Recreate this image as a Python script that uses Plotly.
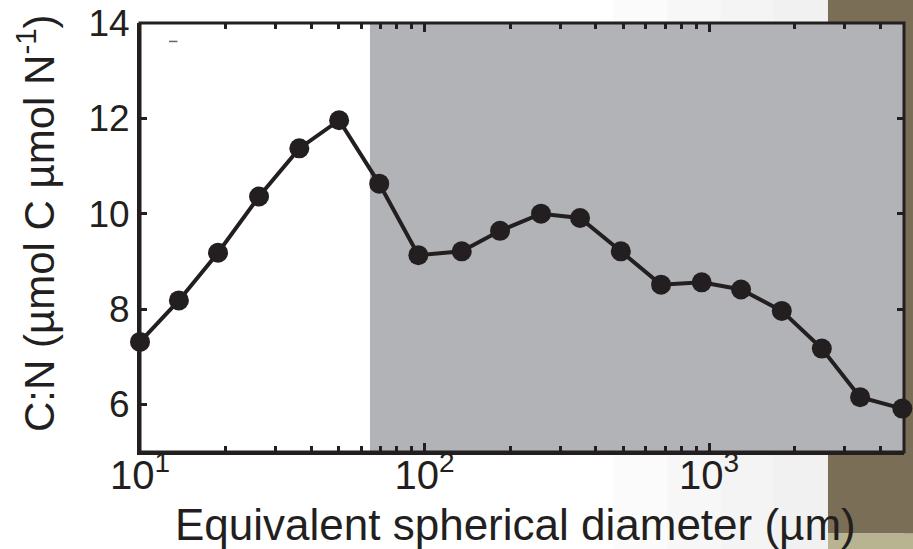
import plotly.graph_objects as go

# Data
diameter_um = [10.0, 13.7, 18.8, 26.2, 36.3, 50.1, 69.3, 95.1, 135.1, 184.2,
               256.6, 352, 489.6, 678, 942, 1295, 1801, 2490, 3394, 4775]
cn_ratio = [7.31, 8.18, 9.18, 10.36, 11.37, 11.96, 10.63, 9.13, 9.21, 9.64,
            10.0, 9.91, 9.21, 8.51, 8.56, 8.41, 7.96, 7.17, 6.15, 5.91]
shade_start_um = 64.3
x_range_log = [1, 3.685]
y_range = [5, 14]
y_ticks = [6, 8, 10, 12, 14]
x_major = [10, 100, 1000]
x_major_text = ["10<sup>1</sup>", "10<sup>2</sup>", "10<sup>3</sup>"]
x_minor = [20, 30, 40, 50, 60, 70, 80, 90, 200, 300, 400, 500, 600, 700, 800, 900,
           2000, 3000, 4000]

INK = "#231f20"
FONT = "Arial, Liberation Sans, sans-serif"

fig = go.Figure()
fig.add_trace(go.Scatter(
    x=diameter_um, y=cn_ratio, mode="lines+markers",
    line=dict(color=INK, width=4),
    marker=dict(color=INK, size=20),
    showlegend=False, cliponaxis=False))
# empty trace that carries the mirrored top/right tick axes
fig.add_trace(go.Scatter(x=[], y=[], xaxis="x2", yaxis="y2", showlegend=False,
                         hoverinfo="skip"))

BROWN = "#7a6f56"
KHAKI = "#b8b391"
PX0 = 0.9005
shapes = []
grads = ["#fbfbfb", "#f7f7f7", "#f4f4f4", "#f1f1f1"]
for i, c in enumerate(grads):
    x0 = 0.62 + i * 0.07
    shapes.append(dict(type="rect", xref="paper", yref="paper", x0=x0, x1=PX0,
                       y0=1.0, y1=1.06, fillcolor=c, line_width=0, layer="below"))
    shapes.append(dict(type="rect", xref="paper", yref="paper", x0=x0, x1=PX0,
                       y0=-0.24, y1=0.0, fillcolor=c, line_width=0, layer="below"))
shapes.append(dict(type="rect", xref="paper", yref="paper", x0=PX0, x1=1.02,
                   y0=1.0, y1=1.06, fillcolor=BROWN, line_width=0, layer="below"))
shapes.append(dict(type="rect", xref="paper", yref="paper", x0=1.0, x1=1.02,
                   y0=-0.19, y1=1.06, fillcolor=BROWN, line_width=0, layer="below"))
shapes.append(dict(type="rect", xref="paper", yref="paper", x0=PX0, x1=1.02,
                   y0=-0.19, y1=0.0, fillcolor=BROWN, line_width=0, layer="below"))
shapes.append(dict(type="rect", xref="paper", yref="paper", x0=PX0, x1=1.02,
                   y0=-0.24, y1=-0.19, fillcolor=KHAKI, line_width=0, layer="below"))
# gray shaded size range
shapes.append(dict(type="rect", xref="x", yref="y", x0=shade_start_um, x1=10 ** x_range_log[1],
                   y0=y_range[0], y1=y_range[1], fillcolor="#b2b3b7", line_width=0, layer="below"))
# tiny leftover dash
shapes.append(dict(type="line", xref="paper", yref="paper", x0=0.038, x1=0.049,
                   y0=0.957, y1=0.957, line=dict(color="#666666", width=1.5)))
# frame
shapes.append(dict(type="rect", xref="paper", yref="paper", x0=0, x1=1, y0=0, y1=1,
                   line=dict(color=INK, width=3), fillcolor="rgba(0,0,0,0)", layer="above"))

annotations = [
    dict(text="Equivalent spherical diameter (µm)", xref="paper", yref="paper",
         x=0.491, y=-0.168, xanchor="center", yanchor="middle", showarrow=False,
         font=dict(size=44, family=FONT, color=INK)),
    dict(text="C:N (µmol C µmol N<sup>-1</sup>)", xref="paper", yref="paper",
         x=-0.136, y=0.534, xanchor="center", yanchor="middle", showarrow=False,
         textangle=-90, font=dict(size=42, family=FONT, color=INK)),
]

fig.update_layout(
    width=913, height=549,
    margin=dict(l=140, r=9, t=23, b=97),
    paper_bgcolor="white", plot_bgcolor="white",
    shapes=shapes, annotations=annotations,
    font=dict(family=FONT, color=INK),
    xaxis=dict(
        type="log", range=x_range_log, automargin=False,
        tickmode="array", tickvals=x_major, ticktext=x_major_text,
        ticks="inside", ticklen=9, tickwidth=3, tickcolor=INK,
        minor=dict(tickmode="array", tickvals=x_minor, ticks="inside", ticklen=6,
                   tickwidth=3, tickcolor=INK, showgrid=False),
        showline=True, linewidth=3, linecolor=INK,
        showgrid=False, zeroline=False, ticklabelstandoff=-14,
        tickfont=dict(size=40, family=FONT, color=INK),
    ),
    yaxis=dict(
        range=y_range, automargin=False, tickmode="array", tickvals=y_ticks,
        ticks="inside", ticklen=7, tickwidth=3, tickcolor=INK,
        showline=True, linewidth=3, linecolor=INK,
        showgrid=False, zeroline=False,
        tickfont=dict(size=37, family=FONT, color=INK),
    ),
    xaxis2=dict(
        type="log", range=x_range_log, overlaying="x", side="top", anchor="y2",
        automargin=False, tickmode="array", tickvals=x_major, showticklabels=False,
        ticks="inside", ticklen=9, tickwidth=3, tickcolor=INK,
        minor=dict(tickmode="array", tickvals=x_minor, ticks="inside", ticklen=6,
                   tickwidth=3, tickcolor=INK, showgrid=False),
        showline=False, showgrid=False, zeroline=False,
    ),
    yaxis2=dict(
        range=y_range, overlaying="y", side="right", anchor="x2", automargin=False,
        tickmode="array", tickvals=y_ticks, showticklabels=False,
        ticks="inside", ticklen=7, tickwidth=3, tickcolor=INK,
        showline=False, showgrid=False, zeroline=False,
    ),
)

fig.write_html("out.html")
